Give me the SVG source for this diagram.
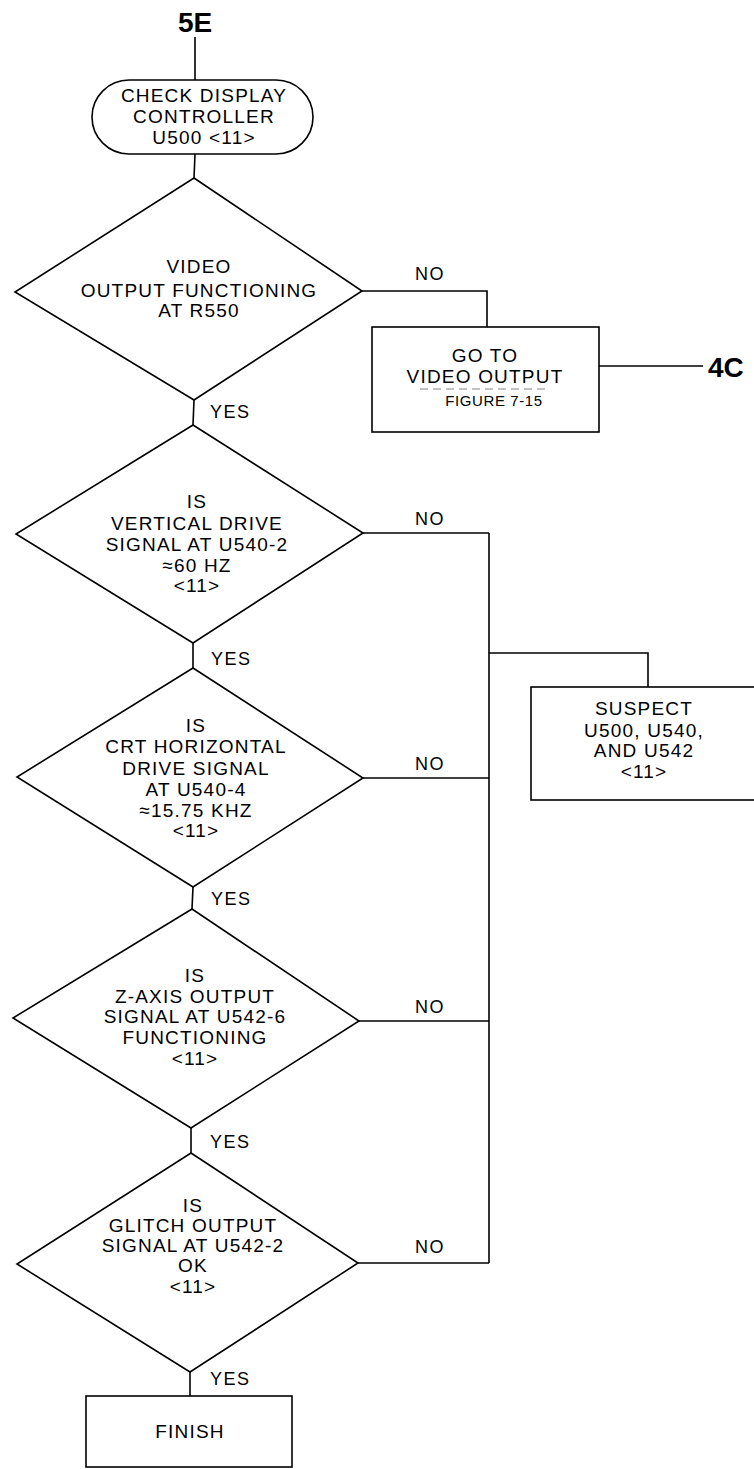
<svg xmlns="http://www.w3.org/2000/svg" width="754" height="1469" viewBox="0 0 754 1469">
<style>
  .shape { fill: none; stroke: #000; stroke-width: 1.6; }
  .conn { fill: none; stroke: #000; stroke-width: 1.6; }
  text { font-family: "Liberation Sans", Arial, sans-serif; fill: #000; }
  .t { font-size: 19px; letter-spacing: 1.2px; text-anchor: middle; }
  .small { font-size: 15px; letter-spacing: 0.6px; text-anchor: middle; }
  .lbl { font-size: 18px; letter-spacing: 1.5px; }
  .big { font-size: 28px; font-weight: bold; }
</style>
<rect width="754" height="1469" fill="#fff"/>

<g id="connectors">
  <line class="conn" x1="195" y1="37" x2="195" y2="80"/>
  <line class="conn" x1="195" y1="154" x2="194" y2="178"/>
  <polyline class="conn" points="362,291 487,291 487,327"/>
  <line class="conn" x1="599" y1="366" x2="703" y2="366"/>
  <line class="conn" x1="194" y1="400" x2="193" y2="425"/>
  <line class="conn" x1="193" y1="643" x2="193" y2="668"/>
  <line class="conn" x1="193" y1="887" x2="192" y2="909"/>
  <line class="conn" x1="191" y1="1128" x2="191" y2="1153"/>
  <line class="conn" x1="190" y1="1372" x2="190" y2="1396"/>
  <line class="conn" x1="363" y1="533" x2="489" y2="533"/>
  <line class="conn" x1="363" y1="778" x2="489" y2="778"/>
  <line class="conn" x1="359" y1="1021" x2="489" y2="1021"/>
  <line class="conn" x1="358" y1="1263" x2="489" y2="1263"/>
  <line class="conn" x1="489" y1="533" x2="489" y2="1263"/>
  <polyline class="conn" points="489,653 648,653 648,687"/>
  <text class="lbl" x="415" y="280">NO</text>
  <text class="lbl" x="415" y="525">NO</text>
  <text class="lbl" x="415" y="770">NO</text>
  <text class="lbl" x="415" y="1013">NO</text>
  <text class="lbl" x="415" y="1253">NO</text>
  <text class="lbl" x="210" y="418">YES</text>
  <text class="lbl" x="211" y="665">YES</text>
  <text class="lbl" x="211" y="905">YES</text>
  <text class="lbl" x="210" y="1148">YES</text>
  <text class="lbl" x="210" y="1385">YES</text>
</g>

<g id="connector-5E">
  <text class="big" x="195" y="32" text-anchor="middle">5E</text>
</g>

<g id="connector-4C">
  <text class="big" x="708" y="377">4C</text>
</g>

<g id="start">
  <rect class="shape" x="92" y="80" width="221" height="74" rx="37" ry="37"/>
  <text class="t" x="204" y="102">CHECK DISPLAY</text>
  <text class="t" x="204" y="123">CONTROLLER</text>
  <text class="t" x="204" y="144">U500 &lt;11&gt;</text>
</g>

<g id="d1">
  <polygon class="shape" points="194,178 362,291 194,400 15,292"/>
  <text class="t" x="199" y="273">VIDEO</text>
  <text class="t" x="199" y="297">OUTPUT FUNCTIONING</text>
  <text class="t" x="199" y="317">AT R550</text>
</g>

<g id="video-output">
  <rect class="shape" x="372" y="327" width="227" height="105"/>
  <text class="t" x="485" y="362">GO TO</text>
  <text class="t" x="485" y="383">VIDEO OUTPUT</text>
  <line x1="420" y1="389" x2="547" y2="389" stroke="#666" stroke-width="0.8" stroke-dasharray="8 5"/>
  <text class="small" x="494" y="406">FIGURE  7-15</text>
</g>

<g id="d2">
  <polygon class="shape" points="193,425 363,533 193,643 16,534"/>
  <text class="t" x="197" y="508">IS</text>
  <text class="t" x="197" y="530">VERTICAL DRIVE</text>
  <text class="t" x="197" y="551">SIGNAL AT U540-2</text>
  <text class="t" x="197" y="572">≈60 HZ</text>
  <text class="t" x="197" y="592">&lt;11&gt;</text>
</g>

<g id="suspect">
  <rect class="shape" x="531" y="687" width="240" height="113"/>
  <text class="t" x="644" y="715">SUSPECT</text>
  <text class="t" x="644" y="737">U500, U540,</text>
  <text class="t" x="644" y="757">AND U542</text>
  <text class="t" x="644" y="778">&lt;11&gt;</text>
</g>

<g id="d3">
  <polygon class="shape" points="193,668 363,778 193,887 17,777"/>
  <text class="t" x="196" y="732">IS</text>
  <text class="t" x="196" y="753">CRT HORIZONTAL</text>
  <text class="t" x="196" y="775">DRIVE SIGNAL</text>
  <text class="t" x="196" y="796">AT U540-4</text>
  <text class="t" x="196" y="817">≈15.75 KHZ</text>
  <text class="t" x="196" y="837">&lt;11&gt;</text>
</g>

<g id="d4">
  <polygon class="shape" points="192,909 359,1021 191,1128 13,1018"/>
  <text class="t" x="195" y="982">IS</text>
  <text class="t" x="195" y="1003">Z-AXIS OUTPUT</text>
  <text class="t" x="195" y="1023">SIGNAL AT U542-6</text>
  <text class="t" x="195" y="1044">FUNCTIONING</text>
  <text class="t" x="195" y="1065">&lt;11&gt;</text>
</g>

<g id="d5">
  <polygon class="shape" points="191,1153 358,1263 190,1372 17,1264"/>
  <text class="t" x="193" y="1212">IS</text>
  <text class="t" x="193" y="1232">GLITCH OUTPUT</text>
  <text class="t" x="193" y="1252">SIGNAL AT U542-2</text>
  <text class="t" x="193" y="1272">OK</text>
  <text class="t" x="193" y="1293">&lt;11&gt;</text>
</g>

<g id="finish">
  <rect class="shape" x="86" y="1396" width="206" height="71"/>
  <text class="t" x="190" y="1438">FINISH</text>
</g>
</svg>
